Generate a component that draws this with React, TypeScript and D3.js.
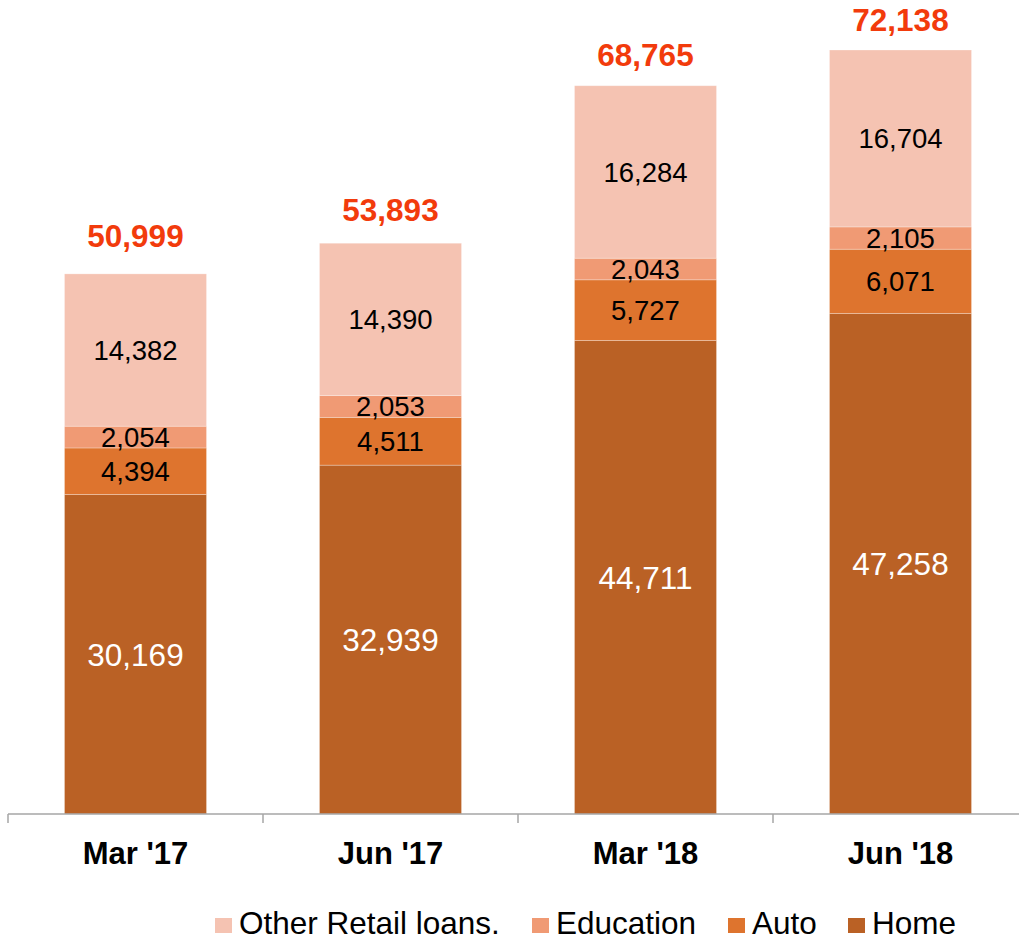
import React from "react";
import * as d3 from "d3";

const categories = ["Mar '17", "Jun '17", "Mar '18", "Jun '18"];
const seriesNames = ["Home", "Auto", "Education", "Other Retail loans."];
const home = [30169, 32939, 44711, 47258];
const auto = [4394, 4511, 5727, 6071];
const education = [2054, 2053, 2043, 2105];
const otherRetail = [14382, 14390, 16284, 16704];
const totals = [50999, 53893, 68765, 72138];
const legendOrder = ["Other Retail loans.", "Education", "Auto", "Home"];

const colors: Record<string, string> = {
  Home: "#BA6125",
  Auto: "#DE742E",
  Education: "#F09A74",
  "Other Retail loans.": "#F5C3B2",
};
const labelColors: Record<string, string> = {
  Home: "#FFFFFF",
  Auto: "#000000",
  Education: "#000000",
  "Other Retail loans.": "#000000",
};
const labelSizes: Record<string, number> = {
  Home: 31.5,
  Auto: 27.5,
  Education: 27.5,
  "Other Retail loans.": 27.5,
};

const W = 1019;
const H = 940;
const baseY = 814;
// gap between bar top and total label baseline (layout)
const totalGap = [27, 22, 20, 19];

export default function App() {
  const seriesValues: Record<string, number[]> = {
    Home: home,
    Auto: auto,
    Education: education,
    "Other Retail loans.": otherRetail,
  };
  const rows = categories.map((c, i) => {
    const r: any = { cat: c };
    seriesNames.forEach((s) => (r[s] = seriesValues[s][i]));
    return r;
  });
  const stacked = d3.stack<any>().keys(seriesNames)(rows);

  const x = d3
    .scaleBand<string>()
    .domain(categories)
    .range([8, 1028])
    .paddingInner(0.443)
    .paddingOuter(0.2215);
  const y = d3.scaleLinear().domain([0, 72138]).range([baseY, 50]);
  const fmt = d3.format(",");

  const tickXs = categories.map((c) => x(c)! - (x.step() - x.bandwidth()) / 2);
  tickXs.push(1028);

  const legendX = [215, 532, 728, 848];

  return (
    <svg
      width={W}
      height={H}
      style={{ position: "absolute", left: 0, top: 0, background: "#fff" }}
      fontFamily="Arial, 'Liberation Sans', sans-serif"
    >
      {stacked.map((layer) => (
        <g key={layer.key}>
          {layer.map((d, i) => {
            const x0 = x(categories[i])!;
            const y0 = y(d[1]);
            const y1 = y(d[0]);
            return (
              <g key={i}>
                <rect
                  x={x0}
                  y={y0}
                  width={x.bandwidth()}
                  height={y1 - y0}
                  fill={colors[layer.key]}
                  stroke="#ffffff"
                  strokeOpacity={0.35}
                  strokeWidth={0.8}
                />
                <text
                  x={x0 + x.bandwidth() / 2}
                  y={(y0 + y1) / 2 + labelSizes[layer.key] * 0.36}
                  textAnchor="middle"
                  fontSize={labelSizes[layer.key]}
                  fill={labelColors[layer.key]}
                >
                  {fmt(d[1] - d[0])}
                </text>
              </g>
            );
          })}
        </g>
      ))}
      {categories.map((c, i) => (
        <text
          key={c}
          x={x(c)! + x.bandwidth() / 2}
          y={y(totals[i]) - totalGap[i]}
          textAnchor="middle"
          fontSize={31.5}
          fontWeight="bold"
          fill="#F23B0C"
        >
          {fmt(totals[i])}
        </text>
      ))}
      <line x1={8} x2={1028} y1={baseY} y2={baseY} stroke="#A6A6A6" strokeWidth={1.5} />
      {tickXs.map((tx, i) => (
        <line key={i} x1={tx} x2={tx} y1={baseY} y2={baseY + 9} stroke="#A6A6A6" strokeWidth={1.5} />
      ))}
      {categories.map((c) => (
        <text
          key={c}
          x={x(c)! + x.bandwidth() / 2}
          y={864}
          textAnchor="middle"
          fontSize={31}
          fontWeight="bold"
          fill="#000"
        >
          {c}
        </text>
      ))}
      {legendOrder.map((s, i) => (
        <g key={s} transform={`translate(${legendX[i]},0)`}>
          <rect x={0} y={918} width={17} height={15} fill={colors[s]} />
          <text x={24} y={934} fontSize={31.5} fill="#000">
            {s}
          </text>
        </g>
      ))}
    </svg>
  );
}
